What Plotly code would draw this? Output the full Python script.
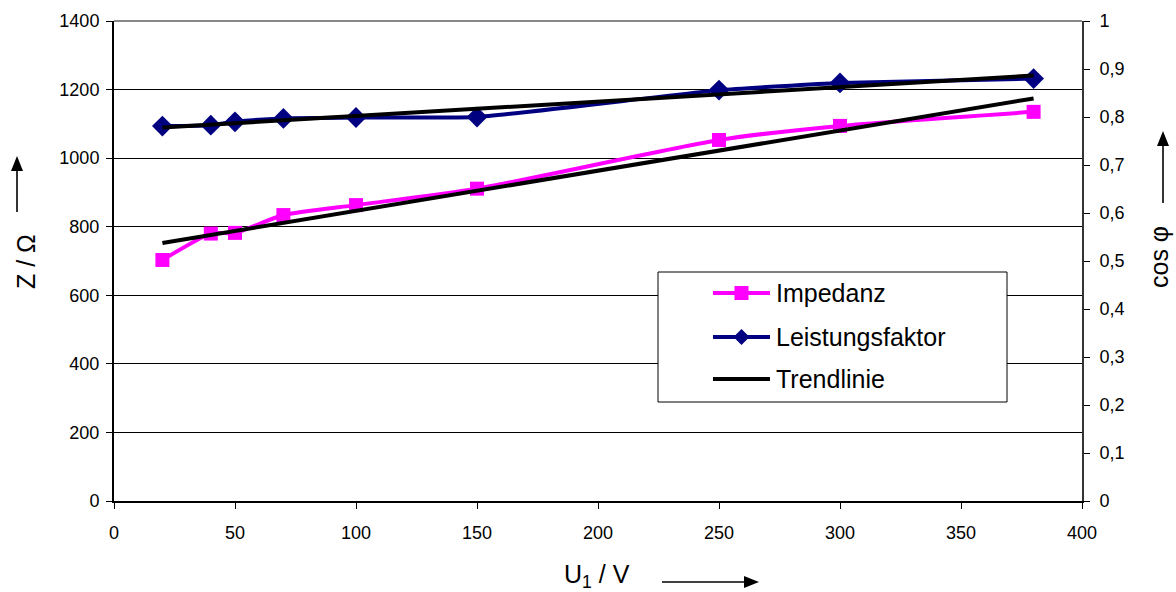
import numpy as np
import plotly.graph_objects as go

# Messwerte
spannung_v = [20, 40, 50, 70, 100, 150, 250, 300, 380]
impedanz_ohm = [703, 780, 782, 834, 863, 911, 1053, 1094, 1135]
leistungsfaktor = [0.781, 0.783, 0.790, 0.797, 0.799, 0.800, 0.856, 0.871, 0.880]

# Achsenbeschriftungen
z_ticks = [0, 200, 400, 600, 800, 1000, 1200, 1400]
cos_ticks = [0, 0.1, 0.2, 0.3, 0.4, 0.5, 0.6, 0.7, 0.8, 0.9, 1.0]
cos_ticktext = ["0", "0,1", "0,2", "0,3", "0,4", "0,5", "0,6", "0,7", "0,8", "0,9", "1"]
u_ticks = [0, 50, 100, 150, 200, 250, 300, 350, 400]

legend_names = ["Impedanz", "Leistungsfaktor", "Trendlinie"]

PINK = "#FF00FF"
NAVY = "#000080"
FONT = "Liberation Sans, Arial, sans-serif"
LW = 4

# lineare Trendlinien (Regression)
x_np = np.array(spannung_v, dtype=float)
k_z = np.polyfit(x_np, np.array(impedanz_ohm, dtype=float), 1)
k_c = np.polyfit(x_np, np.array(leistungsfaktor, dtype=float), 1)
x_trend = [spannung_v[0], spannung_v[-1]]
z_trend = list(np.polyval(k_z, x_trend))
c_trend = list(np.polyval(k_c, x_trend))

W, H = 1176, 592
M_L, M_R, M_T, M_B = 114, 94, 21, 91
PW, PH = W - M_L - M_R, H - M_T - M_B


def px(xp):
    return (xp - M_L) / PW


def py(yp):
    return (H - M_B - yp) / PH


def arrow(x_tail, y_tail, x_tip, y_tip, head_len=15, head_half=6):
    """Pfeil (Linie + gefüllte Spitze) in Pixelkoordinaten der Seite."""
    dx, dy = x_tip - x_tail, y_tip - y_tail
    n = (dx * dx + dy * dy) ** 0.5
    ux, uy = dx / n, dy / n
    bx, by = x_tip - ux * head_len, y_tip - uy * head_len
    nx, ny = -uy, ux
    line = dict(type="line", xref="paper", yref="paper",
                x0=px(x_tail), y0=py(y_tail), x1=px(bx), y1=py(by),
                line=dict(color="black", width=1.6))
    head = dict(type="path", xref="paper", yref="paper",
                path=(f"M{px(x_tip)},{py(y_tip)} "
                      f"L{px(bx + nx * head_half)},{py(by + ny * head_half)} "
                      f"L{px(bx - nx * head_half)},{py(by - ny * head_half)} Z"),
                line=dict(width=0), fillcolor="black")
    return [line, head]


fig = go.Figure()

fig.add_trace(go.Scatter(
    x=spannung_v, y=impedanz_ohm, name=legend_names[0], mode="lines+markers",
    line=dict(color=PINK, width=LW, shape="spline", smoothing=0.6),
    marker=dict(symbol="square", size=14, color=PINK),
    yaxis="y", showlegend=False))
fig.add_trace(go.Scatter(
    x=x_trend, y=z_trend, name=legend_names[2], mode="lines",
    line=dict(color="black", width=LW), yaxis="y", showlegend=False))
fig.add_trace(go.Scatter(
    x=spannung_v, y=leistungsfaktor, name=legend_names[1], mode="lines+markers",
    line=dict(color=NAVY, width=LW, shape="spline", smoothing=0.4),
    marker=dict(symbol="diamond", size=16, color=NAVY),
    yaxis="y2", showlegend=False))
fig.add_trace(go.Scatter(
    x=x_trend, y=c_trend, name=legend_names[2], mode="lines",
    line=dict(color="black", width=LW), yaxis="y2", showlegend=False))

shapes = []
annotations = []

# obere Rahmenlinie
shapes.append(dict(type="line", xref="paper", yref="paper", x0=0, x1=1, y0=1, y1=1,
                   line=dict(color="#888888", width=2), layer="below"))

# Legende
lx0, lx1, ly0, ly1 = 658, 1007, 272, 402
shapes.append(dict(type="rect", xref="paper", yref="paper",
                   x0=px(lx0), x1=px(lx1), y0=py(ly1), y1=py(ly0),
                   line=dict(color="black", width=1), fillcolor="white", layer="above"))
rows = [293, 337, 379]
colors = [PINK, NAVY, "black"]
for name, yr, col in zip(legend_names, rows, colors):
    shapes.append(dict(type="line", xref="paper", yref="paper",
                       x0=px(713), x1=px(770), y0=py(yr), y1=py(yr),
                       line=dict(color=col, width=LW), layer="above"))
    annotations.append(dict(text=name, xref="paper", yref="paper", x=px(774), y=py(yr),
                            xanchor="left", yanchor="middle", showarrow=False,
                            font=dict(family=FONT, size=25, color="black")))
cx = 741.5
shapes.append(dict(type="rect", xref="paper", yref="paper",
                   x0=px(cx - 7), x1=px(cx + 7), y0=py(rows[0] + 7), y1=py(rows[0] - 7),
                   line=dict(width=0), fillcolor=PINK, layer="above"))
d = 8
shapes.append(dict(type="path", xref="paper", yref="paper",
                   path=(f"M{px(cx - d)},{py(rows[1])} L{px(cx)},{py(rows[1] - d)} "
                         f"L{px(cx + d)},{py(rows[1])} L{px(cx)},{py(rows[1] + d)} Z"),
                   line=dict(width=0), fillcolor=NAVY, layer="above"))

# Achsentitel mit Pfeilen
title_font = dict(family=FONT, size=25, color="black")
annotations.append(dict(text="Z / Ω", xref="paper", yref="paper", x=px(26), y=py(262),
                        xanchor="center", yanchor="middle",
                        textangle=-90, showarrow=False, font=title_font))
shapes += arrow(17, 212, 17, 156)
annotations.append(dict(text="cos φ", xref="paper", yref="paper", x=px(1159), y=py(257),
                        xanchor="center", yanchor="middle",
                        textangle=-90, showarrow=False, font=title_font))
shapes += arrow(1163, 203, 1163, 131)
annotations.append(dict(text="U<sub>1</sub> / V", xref="paper", yref="paper", x=px(597), y=py(576),
                        xanchor="center", yanchor="middle",
                        showarrow=False, font=title_font))
shapes += arrow(662, 582, 759, 582)

tick_font = dict(family=FONT, size=18, color="black")

fig.update_layout(
    width=W, height=H,
    margin=dict(l=M_L, r=M_R, t=M_T, b=M_B),
    paper_bgcolor="white", plot_bgcolor="white",
    font=dict(family=FONT, color="black"),
    xaxis=dict(range=[0, 400], tickvals=u_ticks, ticks="outside", ticklen=6,
               tickcolor="black", tickwidth=1, showline=True, linecolor="black",
               linewidth=2, showgrid=False, zeroline=False, tickfont=tick_font,
               ticklabelstandoff=8),
    yaxis=dict(range=[0, 1400], tickvals=z_ticks, ticks="outside", ticklen=6,
               tickcolor="black", tickwidth=1, showline=True, linecolor="black",
               linewidth=2, showgrid=True, gridcolor="black", gridwidth=1,
               zeroline=False, tickfont=tick_font, ticklabelstandoff=3),
    yaxis2=dict(range=[0, 1], overlaying="y", side="right", tickvals=cos_ticks,
                ticktext=cos_ticktext, ticks="outside", ticklen=6, tickcolor="black",
                tickwidth=1, showline=True, linecolor="#333333", linewidth=2,
                showgrid=False, zeroline=False, tickfont=tick_font, ticklabelstandoff=6),
    shapes=shapes,
    annotations=annotations,
)

fig.write_html("out.html")
